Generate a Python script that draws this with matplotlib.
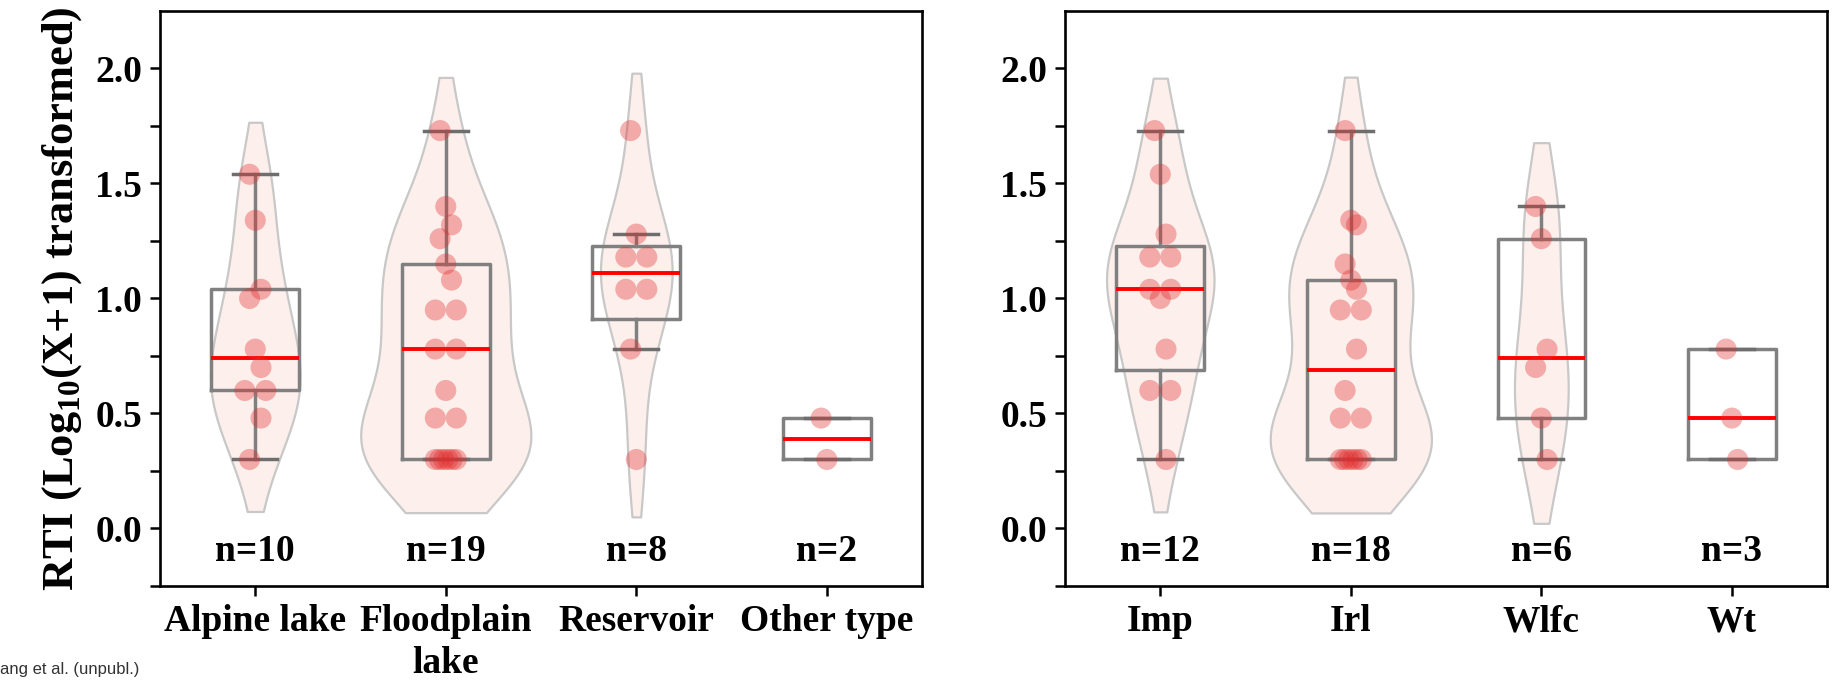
import numpy as np
import matplotlib
matplotlib.use("Agg")
import matplotlib.pyplot as plt

plt.rcParams['font.family'] = ['Liberation Serif', 'DejaVu Serif']
plt.rcParams['font.weight'] = 'bold'
plt.rcParams['mathtext.fontset'] = 'custom'
plt.rcParams['mathtext.rm'] = 'Liberation Serif:bold'
plt.rcParams['mathtext.bf'] = 'Liberation Serif:bold'

# RTI values, log10(X+1) transformed
lake_labels = ['Alpine lake', 'Floodplain\nlake', 'Reservoir', 'Other type']
alpine = [1.54, 1.34, 1.04, 1.00, 0.78, 0.70, 0.60, 0.60, 0.48, 0.30]
floodplain = [1.73, 1.40, 1.32, 1.26, 1.15, 1.08, 0.95, 0.95, 0.78, 0.78,
              0.60, 0.48, 0.48, 0.30, 0.30, 0.30, 0.30, 0.30, 0.30]
reservoir = [1.73, 1.28, 1.18, 1.18, 1.04, 1.04, 0.78, 0.30]
other_type = [0.48, 0.30]

use_labels = ['Imp', 'Irl', 'Wlfc', 'Wt']
imp = [1.73, 1.54, 1.28, 1.18, 1.18, 1.04, 1.04, 1.00, 0.78, 0.60, 0.60, 0.30]
irl = [1.73, 1.34, 1.32, 1.15, 1.08, 1.04, 0.95, 0.95, 0.78, 0.60,
       0.48, 0.48, 0.30, 0.30, 0.30, 0.30, 0.30, 0.30]
wlfc = [1.40, 1.26, 0.78, 0.70, 0.48, 0.30]
wt = [0.78, 0.48, 0.30]

BOX_GREY = '#808080'
VIOLIN_FILL = '#fdf0ec'
VIOLIN_EDGE = '#c8c8c8'
DOT = '#e12d2d'
FS = 27


def box_stats(vals):
    v = np.sort(np.asarray(vals))
    n = len(v)
    half = n // 2
    q1 = np.median(v[:half])
    q3 = np.median(v[n - half:])
    iqr = q3 - q1
    lo = v[v >= q1 - 1.5 * iqr].min()
    hi = v[v <= q3 + 1.5 * iqr].max()
    return dict(med=np.median(v), q1=q1, q3=q3, whislo=lo, whishi=hi, fliers=[])


def jitter(vals):
    vals = np.asarray(vals)
    offs = np.zeros(len(vals))
    uniq, inv, counts = np.unique(vals, return_inverse=True, return_counts=True)
    seen = {}
    for i in range(len(vals)):
        k = inv[i]
        m = counts[k]
        j = seen.get(k, 0)
        seen[k] = j + 1
        if m > 1:
            offs[i] = np.linspace(-0.055, 0.055, m)[j]
        else:
            offs[i] = 0.03 * ((i % 3) - 1)
    return offs


def draw_violin(ax, pos, vals):
    v = np.asarray(vals)
    n = len(v)
    bw = 0.92 * v.std(ddof=1) * n ** -0.2
    ys = np.linspace(v.min() - bw, v.max() + bw, 300)
    dens = np.exp(-0.5 * ((ys[:, None] - v[None, :]) / bw) ** 2).sum(axis=1)
    half = dens / dens.max() * 0.0235 * n
    ax.fill_betweenx(ys, pos - half, pos + half, facecolor=VIOLIN_FILL,
                     edgecolor=VIOLIN_EDGE, linewidth=1.6, zorder=1)


def panel(ax, groups, labels):
    stats = [box_stats(g) for g in groups]
    ax.bxp(stats, positions=range(len(groups)), widths=0.46, showfliers=False,
           patch_artist=False, manage_ticks=False,
           boxprops=dict(color=BOX_GREY, linewidth=2.5),
           whiskerprops=dict(color=BOX_GREY, linewidth=2.5),
           capprops=dict(color='#6e6e6e', linewidth=2.5),
           medianprops=dict(color='red', linewidth=2.8),
           zorder=3)
    for i, g in enumerate(groups):
        if len(g) > 3:
            draw_violin(ax, i, g)
        ax.scatter(i + jitter(g), g, s=230, color=DOT, alpha=0.36,
                   edgecolors='none', zorder=4)
        ax.text(i, -0.14, f'n={len(g)}', ha='center', va='baseline',
                fontsize=FS, fontweight='bold')

    ax.set_xlim(-0.5, 3.5)
    ax.set_ylim(-0.25, 2.25)
    ax.set_xticks(range(len(groups)))
    ax.set_xticklabels(labels, fontsize=FS, fontweight='bold', linespacing=1.25)
    ax.set_yticks([0.0, 0.5, 1.0, 1.5, 2.0])
    ax.set_yticks([-0.25, 0.25, 0.75, 1.25, 1.75], minor=True)
    ax.set_yticklabels(['0.0', '0.5', '1.0', '1.5', '2.0'], fontsize=FS,
                       fontweight='bold')
    ax.tick_params(axis='both', which='major', direction='out', length=7,
                   width=1.8, pad=6)
    ax.tick_params(axis='y', which='minor', direction='out', length=7, width=1.8)
    for sp in ax.spines.values():
        sp.set_linewidth(1.9)
        sp.set_color('black')


fig = plt.figure(figsize=(18.35, 6.82), dpi=100)
ax1 = fig.add_axes([0.0872, 0.1408, 0.4153, 0.8431])
ax2 = fig.add_axes([0.5804, 0.1408, 0.4153, 0.8431])

panel(ax1, [alpine, floodplain, reservoir, other_type], lake_labels)
panel(ax2, [imp, irl, wlfc, wt], use_labels)

ax1.set_ylabel(r'RTI (Log$_{10}$(X+1) transformed)', fontsize=32,
               fontweight='bold', labelpad=8)

fig.text(0.0, 0.012, 'ang et al. (unpubl.)', fontsize=12,
         family='Liberation Sans', fontweight='normal', color='#333333')

fig.savefig('out.png', dpi=100)
